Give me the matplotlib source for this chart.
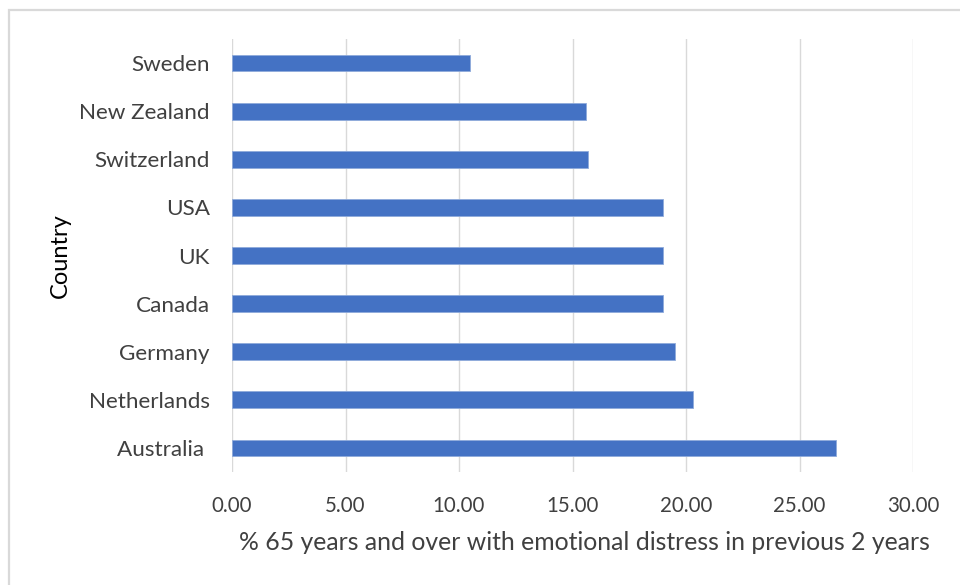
import numpy as np
import matplotlib
matplotlib.use('Agg')
import matplotlib.pyplot as plt
from matplotlib.patches import Rectangle

# data, top to bottom as shown
countries = ['Sweden', 'New Zealand', 'Switzerland', 'USA', 'UK',
             'Canada', 'Germany', 'Netherlands', 'Australia ']
values = [10.5, 15.6, 15.7, 19.0, 19.0, 19.0, 19.5, 20.3, 26.6]
xticks = [0, 5, 10, 15, 20, 25, 30]

plt.rcParams['font.family'] = ['Lato', 'DejaVu Sans']

W, H = 960, 585
fig = plt.figure(figsize=(W/100, H/100), dpi=100)

# chart frame (left/top edges visible, rest cropped)
fig.patches.append(Rectangle((9/W, -0.1), 1.2, (585-10)/H + 0.1,
                             transform=fig.transFigure, fill=False,
                             edgecolor='#d9d9d9', linewidth=1.6))

ax = fig.add_axes([232/W, (H-472)/H, 681/W, 433/H])
ypos = np.arange(len(countries))
ax.barh(ypos, values, height=0.35, color='#4472c4',
        edgecolor='#8eaadb', linewidth=0.6, zorder=3)
ax.set_ylim(len(countries) - 0.5, -0.5)
ax.set_xlim(0, 30)
ax.set_xticks(xticks)
ax.set_xticklabels(['%.2f' % v for v in xticks])
ax.set_yticks(ypos)
ax.set_yticklabels(countries)

ax.grid(axis='x', color='#d9d9d9', linewidth=1.0, zorder=0)
for s in ax.spines.values():
    s.set_visible(False)
ax.tick_params(axis='both', length=0, labelcolor='#404040')
ax.tick_params(axis='y', pad=16, labelsize=16.2)
ax.tick_params(axis='x', pad=17, labelsize=14.8)

ax.set_xlabel('% 65 years and over with emotional distress in previous 2 years',
              fontsize=17.8, color='#404040')
ax.xaxis.set_label_coords(0.5 + 12/681, -(531-472)/433)
ax.set_ylabel('Country', fontsize=17, color='black')
ax.yaxis.set_label_coords(-(232-71)/681, 0.5)

fig.savefig('out.png', dpi=100, facecolor='white')
